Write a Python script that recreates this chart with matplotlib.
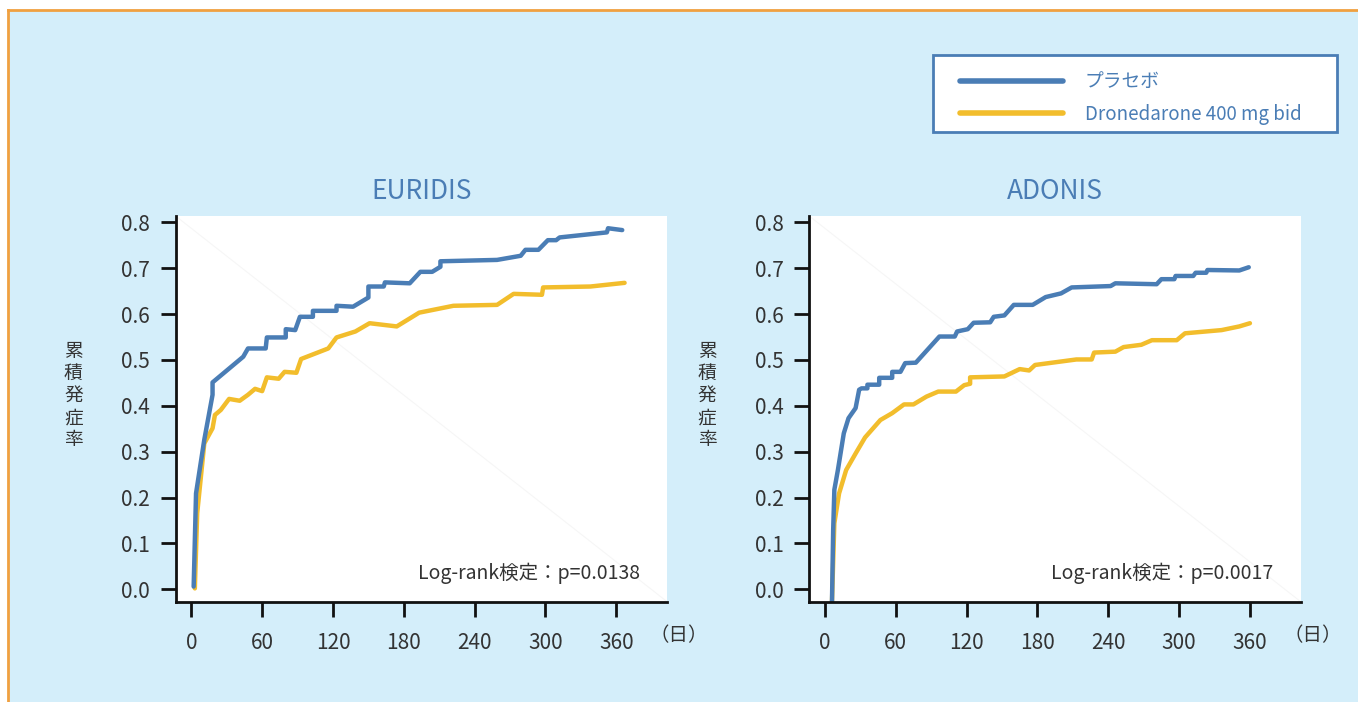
import matplotlib
matplotlib.use('Agg')
import matplotlib.pyplot as plt
from matplotlib.lines import Line2D
from matplotlib.patches import Rectangle

plt.rcParams['font.family'] = ['Noto Sans CJK JP', 'DejaVu Sans']

# Datos (dias, incidencia acumulada)
euridis_placebo_dias = [2, 4, 11, 18, 18, 44, 48, 63, 64, 80, 80, 88, 92, 103, 103, 123, 123, 137,
                        150, 150, 163, 164, 185, 194, 204, 211, 211, 259, 279, 283, 294, 302, 309,
                        312, 352, 353, 365]
euridis_placebo = [0.006, 0.209, 0.326, 0.424, 0.451, 0.507, 0.525, 0.525, 0.549, 0.549, 0.567,
                   0.565, 0.594, 0.594, 0.607, 0.607, 0.618, 0.616, 0.636, 0.660, 0.660, 0.669,
                   0.667, 0.692, 0.692, 0.703, 0.715, 0.718, 0.727, 0.740, 0.740, 0.761, 0.761,
                   0.767, 0.778, 0.787, 0.783]

euridis_drone_dias = [3, 5, 11, 18, 20, 25, 32, 41, 48, 54, 60, 64, 74, 79, 89, 93, 116, 123, 139,
                      151, 174, 193, 222, 259, 273, 297, 298, 338, 367]
euridis_drone = [0.002, 0.166, 0.318, 0.351, 0.380, 0.391, 0.415, 0.411, 0.424, 0.437, 0.432,
                 0.462, 0.459, 0.474, 0.472, 0.502, 0.525, 0.549, 0.562, 0.580, 0.573, 0.603,
                 0.618, 0.620, 0.644, 0.642, 0.658, 0.660, 0.668]

adonis_placebo_dias = [6, 7, 8, 11, 16, 20, 26, 29, 31, 36, 36, 46, 46, 57, 57, 64, 68, 77, 97,
                       110, 112, 121, 126, 140, 143, 152, 160, 176, 187, 200, 209, 242, 246, 281,
                       285, 296, 297, 312, 314, 323, 324, 351, 359]
adonis_placebo = [-0.027, 0.129, 0.217, 0.260, 0.340, 0.373, 0.395, 0.435, 0.438, 0.438, 0.446,
                  0.446, 0.461, 0.461, 0.474, 0.474, 0.493, 0.494, 0.551, 0.551, 0.562, 0.567,
                  0.581, 0.582, 0.594, 0.597, 0.620, 0.620, 0.637, 0.645, 0.658, 0.661, 0.667,
                  0.665, 0.676, 0.676, 0.683, 0.683, 0.690, 0.690, 0.696, 0.695, 0.702]

adonis_drone_dias = [6, 8, 12, 18, 26, 34, 47, 57, 67, 75, 86, 96, 111, 118, 123, 123, 152, 165,
                     173, 178, 213, 226, 228, 246, 253, 268, 277, 298, 305, 336, 351, 360]
adonis_drone = [-0.027, 0.144, 0.209, 0.260, 0.296, 0.331, 0.369, 0.384, 0.403, 0.403, 0.420,
                0.431, 0.431, 0.445, 0.448, 0.462, 0.464, 0.480, 0.477, 0.489, 0.501, 0.501,
                0.516, 0.518, 0.528, 0.533, 0.543, 0.543, 0.558, 0.565, 0.573, 0.580]

titulos = ['EURIDIS', 'ADONIS']
p_valores = ['Log-rank検定：p=0.0138', 'Log-rank検定：p=0.0017']
etiquetas = ['プラセボ', 'Dronedarone 400 mg bid']
dias_ticks = [0, 60, 120, 180, 240, 300, 360]
y_ticks = [0.0, 0.1, 0.2, 0.3, 0.4, 0.5, 0.6, 0.7, 0.8]

AZUL = '#4a7db5'
AMARILLO = '#f2bd2c'
FONDO = '#d4eefa'
TEXTO = '#333333'

W, H = 1358, 702
fig = plt.figure(figsize=(W / 100, H / 100), dpi=100, facecolor='white')

# Fondo azul con borde naranja
fig.add_artist(Rectangle((8 / W, 0), 1, 1 - 10 / H, transform=fig.transFigure,
                         facecolor=FONDO, edgecolor='none', zorder=-10))
fig.add_artist(Line2D([8 / W, 8 / W], [0, 1 - 10 / H], transform=fig.transFigure,
                      color='#f0a040', lw=2))
fig.add_artist(Line2D([8 / W, 1], [1 - 10 / H, 1 - 10 / H], transform=fig.transFigure,
                      color='#f0a040', lw=2))

series = [
    (euridis_placebo_dias, euridis_placebo, euridis_drone_dias, euridis_drone),
    (adonis_placebo_dias, adonis_placebo, adonis_drone_dias, adonis_drone),
]
lefts = [175.6, 809.2]

for i in range(2):
    ax = fig.add_axes([lefts[i] / W, 1 - 601.7 / H, 491.5 / W, 385.7 / H])
    ax.set_facecolor('white')
    xp, yp, xd, yd = series[i]
    ax.plot(xd, yd, color=AMARILLO, lw=3.2, solid_capstyle='round', solid_joinstyle='round')
    ax.plot(xp, yp, color=AZUL, lw=3.2, solid_capstyle='round', solid_joinstyle='round')

    # linea diagonal muy tenue (artefacto de la imagen)
    ax.plot([0, 1], [1, 0], transform=ax.transAxes, color='#f6f6f6', lw=0.8, zorder=0)

    ax.set_xlim(-13.3, 403)
    ax.set_ylim(-0.027, 0.8137)
    ax.set_xticks(dias_ticks)
    ax.set_yticks(y_ticks)
    ax.set_yticklabels([f'{v:.1f}' for v in y_ticks])
    ax.spines['top'].set_visible(False)
    ax.spines['right'].set_visible(False)
    ax.spines['left'].set_linewidth(2)
    ax.spines['bottom'].set_linewidth(2)
    ax.spines['left'].set_color('#111111')
    ax.spines['bottom'].set_color('#111111')
    ax.tick_params(axis='both', direction='out', length=10.5, width=2, color='#111111',
                   labelsize=15, labelcolor=TEXTO)
    ax.tick_params(axis='y', pad=8)
    ax.tick_params(axis='x', pad=11)

    ax.set_title(titulos[i], color=AZUL, fontsize=19, pad=12)
    ax.text(380, 0.0355, p_valores[i], ha='right', va='center', fontsize=14, color=TEXTO)
    ax.text(413, -0.1, '（日）', ha='center', va='center', fontsize=14, color=TEXTO,
            clip_on=False)
    ax.text(-0.208, 0.535, '\n'.join('累積発症率'), transform=ax.transAxes, ha='center',
            va='center', fontsize=13.5, color=TEXTO, linespacing=1.07)

# Leyenda: marco aparte para controlar el tamano
fig.add_artist(Rectangle((933 / W, 1 - 132 / H), 404 / W, 77 / H, transform=fig.transFigure,
                         facecolor='white', edgecolor=AZUL, lw=2, zorder=5))
handles = [Line2D([], [], color=AZUL, lw=4, solid_capstyle='round'),
           Line2D([], [], color=AMARILLO, lw=4, solid_capstyle='round')]
leg = fig.legend(handles, etiquetas, loc='center left',
                 bbox_to_anchor=(960 / W, 1 - 98 / H), fontsize=13.5, labelcolor=AZUL,
                 frameon=False, handlelength=5.5, handletextpad=1.15, labelspacing=0.62,
                 borderpad=0, borderaxespad=0)
leg.set_zorder(6)

plt.savefig('out.png', dpi=100, facecolor=fig.get_facecolor())
